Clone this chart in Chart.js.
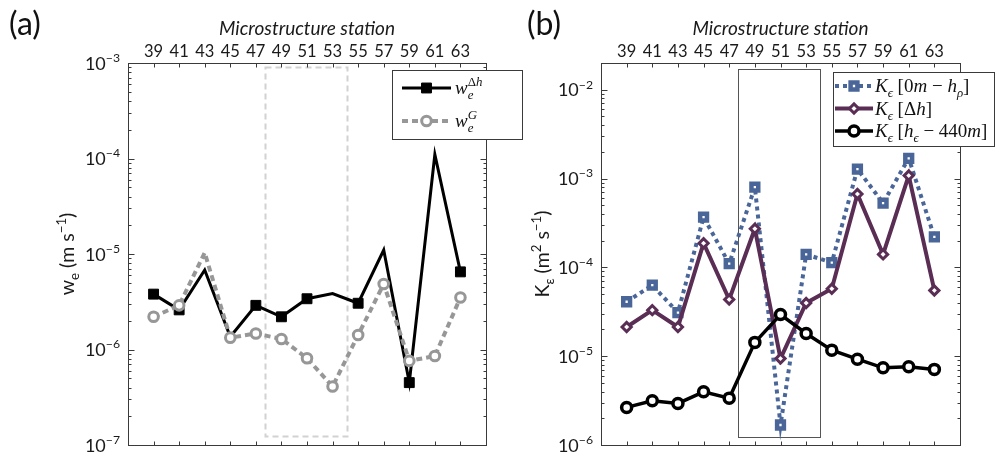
<!DOCTYPE html>
<html>
<head>
<meta charset="utf-8">
<script src="https://cdn.jsdelivr.net/npm/chart.js@4.4.1/dist/chart.umd.min.js"></script>
<style>
  html, body { margin: 0; padding: 0; background: #fff; }
  #wrap { position: relative; width: 995px; height: 458px; overflow: hidden; }
  canvas { position: absolute; top: 0; }
  #cA { left: 0; }
  #cB { left: 500px; }
</style>
</head>
<body>
<div id="wrap">
  <canvas id="cA" width="530" height="458"></canvas>
  <canvas id="cB" width="495" height="458"></canvas>
</div>
<script>
// Microstructure stations along the section
const stations = [39, 41, 43, 45, 47, 49, 51, 53, 55, 57, 59, 61, 63];

// (a) entrainment velocity, m s^-1
const weDh = [3.8e-6, 2.6e-6, 6.8e-6, 1.36e-6, 2.9e-6, 2.2e-6, 3.4e-6, 3.85e-6, 3.05e-6, 1.1e-5, 4.5e-7, 1.1e-4, 6.5e-6];
const weG  = [2.2e-6, 2.9e-6, 1.03e-5, 1.33e-6, 1.47e-6, 1.29e-6, 8.1e-7, 4.1e-7, 1.42e-6, 4.85e-6, 7.6e-7, 8.55e-7, 3.5e-6];

// (b) eddy diffusivity, m^2 s^-1
const kSurface   = [4.1e-5, 6.3e-5, 3.1e-5, 3.67e-4, 1.1e-4, 8.0e-4, 1.68e-6, 1.4e-4, 1.13e-4, 1.28e-3, 5.3e-4, 1.69e-3, 2.2e-4];
const kInterface = [2.13e-5, 3.3e-5, 2.13e-5, 1.87e-4, 4.35e-5, 2.72e-4, 9.4e-6, 3.97e-5, 5.75e-5, 6.7e-4, 1.4e-4, 1.08e-3, 5.5e-5];
const kDeep      = [2.65e-6, 3.15e-6, 2.94e-6, 3.97e-6, 3.37e-6, 1.43e-5, 2.94e-5, 1.8e-5, 1.17e-5, 9.25e-6, 7.4e-6, 7.6e-6, 7.1e-6];

// Stations that carry a marker on the (a) curves
const dhMarked  = [39, 41, 47, 49, 51, 55, 59, 63];
const gUnmarked = [43];

// Series names (TeX-like: _ subscript, ^ superscript)
const seriesNamesA = ['w_e^{Δh}', 'w_e^G'];
const seriesNamesB = ['K_ϵ [0m − h_ρ]', 'K_ϵ [Δh]', 'K_ϵ [h_ϵ − 440m]'];

// Decade tick labels of the log axes
const decadesA = [-7, -6, -5, -4, -3];
const decadesB = [-6, -5, -4, -3, -2];

const xTitle = 'Microstructure station';
const yTitleA = 'w_e (m s^{−1})';
const yTitleB = 'K_ε (m^2 s^{−1})';

const SANS  = 'Lato, "DejaVu Sans", sans-serif';
const SERIF = '"Liberation Serif", "DejaVu Serif", serif';

// ---- small TeX-like text renderer -------------------------------------
function parseTex(str) {
  const segs = [];
  let i = 0, buf = '';
  const flush = () => { if (buf) { segs.push({ text: buf, level: 0 }); buf = ''; } };
  while (i < str.length) {
    const ch = str[i];
    if (ch === '_' || ch === '^') {
      flush();
      i++;
      let g;
      if (str[i] === '{') { const j = str.indexOf('}', i); g = str.slice(i + 1, j); i = j + 1; }
      else { g = str[i]; i++; }
      segs.push({ text: g, level: ch === '_' ? 'sub' : 'sup' });
    } else { buf += ch; i++; }
  }
  flush();
  return segs;
}

function drawTex(ctx, str, x, y, o) {
  const segs = parseTex(str);
  const items = [];
  let cx = 0, stackStart = 0, stackW = 0;
  for (let k = 0; k < segs.length; k++) {
    const s = segs[k], prev = segs[k - 1];
    const sz = s.level ? o.size * 0.68 : o.size;
    const dy = s.level === 'sub' ? o.size * 0.28 : s.level === 'sup' ? -o.size * 0.42 : 0;
    const stacked = s.level && prev && prev.level && prev.level !== s.level;
    const startX = stacked ? stackStart : cx;
    let w = 0;
    for (const ch of s.text) {
      const it = o.italic && /[A-Za-zα-ωϵ]/.test(ch);
      const font = (it ? 'italic ' : '') + sz + 'px ' + o.family;
      ctx.font = font;
      items.push({ ch, x: startX + w, dy, font });
      w += ctx.measureText(ch).width;
    }
    if (stacked) { cx = stackStart + Math.max(stackW, w); }
    else { stackStart = startX; stackW = w; cx = startX + w; }
  }
  const off = o.align === 'center' ? -cx / 2 : o.align === 'right' ? -cx : 0;
  ctx.fillStyle = o.color || '#111';
  ctx.textBaseline = 'alphabetic';
  ctx.textAlign = 'left';
  for (const it of items) {
    ctx.font = it.font;
    ctx.fillText(it.ch, x + off + it.x, y + it.dy);
  }
  return cx;
}

function drawMarker(ctx, style, x, y, r, fill, stroke, bw) {
  ctx.beginPath();
  if (style === 'rect') {
    const h = r * Math.SQRT1_2;
    ctx.rect(x - h, y - h, 2 * h, 2 * h);
  } else if (style === 'rectRot') {
    ctx.moveTo(x - r, y); ctx.lineTo(x, y - r); ctx.lineTo(x + r, y); ctx.lineTo(x, y + r); ctx.closePath();
  } else {
    ctx.arc(x, y, r, 0, Math.PI * 2);
  }
  ctx.fillStyle = fill; ctx.fill();
  if (bw > 0) { ctx.lineWidth = bw; ctx.strokeStyle = stroke; ctx.setLineDash([]); ctx.stroke(); }
}

// ---- frame, ticks, labels, window box and legend ----------------------
const panelDecor = {
  id: 'panelDecor',
  beforeDatasetsDraw(chart, args, o) {
    const { ctx, scales: { x, y } } = chart;
    const b = o.box;
    const x0 = x.getPixelForValue(b.x0), x1 = x.getPixelForValue(b.x1);
    const y0 = y.getPixelForValue(b.y0), y1 = y.getPixelForValue(b.y1);
    ctx.save();
    ctx.strokeStyle = b.color; ctx.lineWidth = b.width; ctx.setLineDash(b.dash);
    ctx.strokeRect(Math.round(x0) + 0.5, Math.round(y1) + 0.5, Math.round(x1 - x0), Math.round(y0 - y1));
    ctx.restore();
  },
  afterDatasetsDraw(chart, args, o) {
    const { ctx, chartArea: a, scales: { x, y } } = chart;
    ctx.save();
    ctx.setLineDash([]);
    ctx.strokeStyle = '#3a3a3a';
    ctx.lineWidth = 1;
    const L = Math.round(a.left) + 0.5, R = Math.round(a.right) + 0.5;
    const T = Math.round(a.top) + 0.5, B = Math.round(a.bottom) + 0.5;
    ctx.strokeRect(L, T, R - L, B - T);
    ctx.beginPath();
    for (const s of stations) {
      const px = Math.round(x.getPixelForValue(s)) + 0.5;
      ctx.moveTo(px, T); ctx.lineTo(px, T + 4);
      ctx.moveTo(px, B); ctx.lineTo(px, B - 4);
    }
    const lo = Math.floor(Math.log10(y.min)), hi = Math.ceil(Math.log10(y.max));
    for (let d = lo; d <= hi; d++) {
      for (let m = 1; m <= 9; m++) {
        const v = m * Math.pow(10, d);
        if (v < y.min * 0.999 || v > y.max * 1.001) continue;
        const py = Math.round(y.getPixelForValue(v)) + 0.5;
        const len = m === 1 ? 6 : 3;
        ctx.moveTo(L, py); ctx.lineTo(L + len, py);
        ctx.moveTo(R, py); ctx.lineTo(R - len, py);
      }
    }
    ctx.stroke();

    // decade labels
    for (const d of o.decades) {
      const py = y.getPixelForValue(Math.pow(10, d));
      drawTex(ctx, '10^{−' + (-d) + '}', a.left - 8, py + 6.5, { size: 18, family: SANS, italic: false, align: 'right', color: '#1a1a1a' });
    }

    // y title
    ctx.save();
    ctx.translate(o.yTitleX, (a.top + a.bottom) / 2);
    ctx.rotate(-Math.PI / 2);
    drawTex(ctx, o.yTitle, 0, 6, { size: 19.5, family: SANS, italic: false, align: 'center', color: '#1a1a1a' });
    ctx.restore();

    // panel letter
    ctx.font = '32px ' + SANS;
    ctx.fillStyle = '#111';
    ctx.textAlign = 'left'; ctx.textBaseline = 'alphabetic';
    ctx.fillText(o.letter, o.letterX, 35);

    // legend
    const g = o.legend;
    ctx.fillStyle = '#fff';
    ctx.fillRect(g.x, g.y, g.w, g.h);
    ctx.strokeStyle = '#3a3a3a'; ctx.lineWidth = 1;
    ctx.strokeRect(g.x + 0.5, g.y + 0.5, g.w, g.h);
    g.rows.forEach((ry, i) => {
      const ds = chart.data.datasets[g.order[i]];
      ctx.beginPath();
      ctx.setLineDash(ds.borderDash || []);
      ctx.strokeStyle = ds.borderColor; ctx.lineWidth = ds.borderWidth;
      ctx.moveTo(g.s0, ry); ctx.lineTo(g.s1, ry);
      ctx.stroke();
      ctx.setLineDash([]);
      drawMarker(ctx, ds.pointStyle, (g.s0 + g.s1) / 2, ry, ds.legendRadius, ds.pointBackgroundColor, ds.pointBorderColor, ds.pointBorderWidth);
      drawTex(ctx, g.names[i], g.tx, ry + 6, { size: 19, family: SERIF, italic: true, align: 'left', color: '#111' });
    });
    ctx.restore();
  }
};

const pts = vals => stations.map((s, i) => ({ x: s, y: vals[i] }));

function xAxis() {
  return {
    type: 'linear', position: 'top', min: 37, max: 65,
    afterBuildTicks: s => { s.ticks = stations.map(v => ({ value: v })); },
    afterFit: s => { s.height = 63; },
    grid: { display: false, drawTicks: false },
    border: { display: false },
    ticks: { autoSkip: false, maxRotation: 0, padding: 1, color: '#1a1a1a',
             font: { family: SANS, size: 16.5 }, callback: v => String(v) },
    title: { display: true, text: xTitle, color: '#1a1a1a',
             font: { family: SANS, size: 19, style: 'italic' }, padding: { top: 17, bottom: 0 } }
  };
}

const common = {
  responsive: false, animation: false, devicePixelRatio: 1, events: [],
  plugins: { legend: { display: false }, tooltip: { enabled: false } }
};

new Chart(document.getElementById('cA'), {
  type: 'line',
  data: {
    datasets: [
      { label: seriesNamesA[0], data: pts(weDh), order: 1,
        borderColor: '#000', borderWidth: 3, pointStyle: 'rect',
        pointRadius: c => dhMarked.includes(stations[c.dataIndex]) ? 7 : 0, legendRadius: 7,
        pointBackgroundColor: '#000', pointBorderColor: '#000', pointBorderWidth: 1 },
      { label: seriesNamesA[1], data: pts(weG), order: 0,
        borderColor: '#979797', borderWidth: 4, borderDash: [6, 4], pointStyle: 'circle',
        pointRadius: c => gUnmarked.includes(stations[c.dataIndex]) ? 0 : 4.8, legendRadius: 4.8,
        pointBackgroundColor: '#fff', pointBorderColor: '#979797', pointBorderWidth: 3 }
    ]
  },
  options: Object.assign({}, common, {
    layout: { padding: { left: 128, right: 44, top: 0, bottom: 13 } },
    scales: {
      x: xAxis(),
      y: { type: 'logarithmic', min: 1e-7, max: 1e-3, display: false }
    },
    plugins: Object.assign({}, common.plugins, {
      panelDecor: {
        decades: decadesA, yTitle: yTitleA, yTitleX: 68, letter: '(a)', letterX: 9,
        box: { x0: 47.7, x1: 54.15, y0: 1.22e-7, y1: 9.0e-4, color: '#d2d2d2', width: 2, dash: [6, 4] },
        legend: { x: 392, y: 70, w: 130, h: 69, rows: [88, 121], order: [0, 1], s0: 402, s1: 451, tx: 455,
                  names: seriesNamesA }
      }
    })
  }),
  plugins: [panelDecor]
});

new Chart(document.getElementById('cB'), {
  type: 'line',
  data: {
    datasets: [
      { label: seriesNamesB[0], data: pts(kSurface), order: 2,
        borderColor: '#4a6699', borderWidth: 4, borderDash: [4, 4], pointStyle: 'rect',
        pointRadius: 4.8, legendRadius: 4.8,
        pointBackgroundColor: '#fff', pointBorderColor: '#4a6699', pointBorderWidth: 4.5 },
      { label: seriesNamesB[1], data: pts(kInterface), order: 1,
        borderColor: '#5a2d55', borderWidth: 4, pointStyle: 'rectRot',
        pointRadius: 4.6, legendRadius: 4.6,
        pointBackgroundColor: '#fff', pointBorderColor: '#5a2d55', pointBorderWidth: 3 },
      { label: seriesNamesB[2], data: pts(kDeep), order: 0,
        borderColor: '#000', borderWidth: 3.5, pointStyle: 'circle',
        pointRadius: 5, legendRadius: 5,
        pointBackgroundColor: '#fff', pointBorderColor: '#000', pointBorderWidth: 3.5 }
    ]
  },
  options: Object.assign({}, common, {
    layout: { padding: { left: 101, right: 35, top: 0, bottom: 13 } },
    scales: {
      x: xAxis(),
      y: { type: 'logarithmic', min: 1e-6, max: 2e-2, display: false }
    },
    plugins: Object.assign({}, common.plugins, {
      panelDecor: {
        decades: decadesB, yTitle: yTitleB, yTitleX: 43, letter: '(b)', letterX: 27,
        box: { x0: 47.72, x1: 54.12, y0: 1.24e-6, y1: 1.71e-2, color: '#555', width: 1, dash: [] },
        legend: { x: 333, y: 72, w: 161, h: 74, rows: [86, 108.5, 131], order: [0, 1, 2], s0: 335, s1: 373, tx: 375,
                  names: seriesNamesB }
      }
    })
  }),
  plugins: [panelDecor]
});
</script>
</body>
</html>
